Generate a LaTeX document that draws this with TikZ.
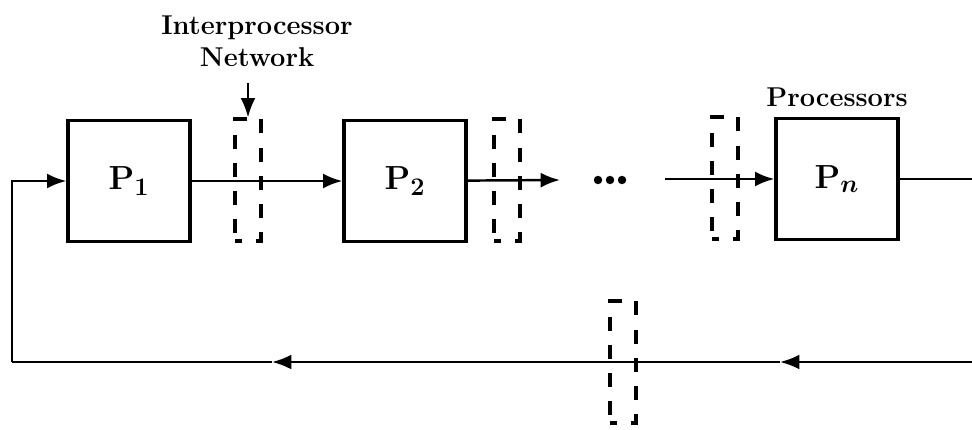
\documentclass[tikz,border=0pt]{standalone}
\usepackage{amsmath}
\usepackage{tikz}
\usetikzlibrary{arrows.meta,positioning}

\begin{document}
\begin{tikzpicture}[
  x=0.02cm, y=-0.02cm,
  node distance=0.3cm,
  proc/.style={rectangle, draw, line width=1.9pt, minimum width=2.44cm, minimum height=2.42cm, inner sep=0pt, font=\fontsize{19}{21}\selectfont\bfseries},
  net/.style={rectangle, draw, line width=1.8pt, dash pattern=on 8pt off 8pt, dash phase=4pt, minimum width=0.52cm, minimum height=2.44cm, inner sep=0pt},
  lab/.style={font=\fontsize{15.5}{18}\selectfont\bfseries, align=center},
  arrow/.style={-{Latex[length=11pt,width=8.5pt]}, line width=1.4pt},
  link/.style={line width=1.4pt}
]
  \useasboundingbox (0,0) rectangle (972,429);

  % processors
  \node[proc] (p1) at (129,181) {P$_{\mathbf{1}}$};
  \node[proc] (p2) at (405,181) {P$_{\mathbf{2}}$};
  \node[proc] (pn) at (837,179) {P$_{\boldsymbol{n}}$};

  % network stages
  \node[net] (net1) at (248,180) {};
  \node[net] (net2) at (507,180) {};
  \node[net] (net3) at (725,178) {};
  \node[net] (net4) at (623,362) {};

  \node (dots) at (610,180) {};
  \foreach \dx in {-12,0,12}
    \fill ([xshift=\dx*0.02cm]dots.center) circle[radius=2.4pt];

  \coordinate (gapL) at (560,180);
  \coordinate (gapR) at (665,179);
  \coordinate (outR) at (972,179);
  \coordinate (retR) at (972,362);
  \coordinate (ret2) at (780,362);
  \coordinate (ret1) at (272,362);
  \coordinate (retL) at (12,362);

  \node[lab] (netlab) at (257,41) {Interprocessor\\Network};
  \node[lab, above=0.08cm of pn] (proclab) {Processors};

  \draw[arrow] (p1) -- (p2);
  \draw[arrow] (p2) -- (gapL);
  \draw[arrow] (gapR) -- (pn);
  \draw[link] (pn) -- (outR);
  \draw[arrow] (retR) -- (ret2);
  \draw[arrow] (ret2) -- (ret1);
  \draw[link] (ret1) -- (retL);
  \draw[arrow] (retL) |- (p1);
  \draw[arrow, shorten <=6pt] (net1.north |- netlab.south) -- (net1.north);
\end{tikzpicture}
\end{document}
